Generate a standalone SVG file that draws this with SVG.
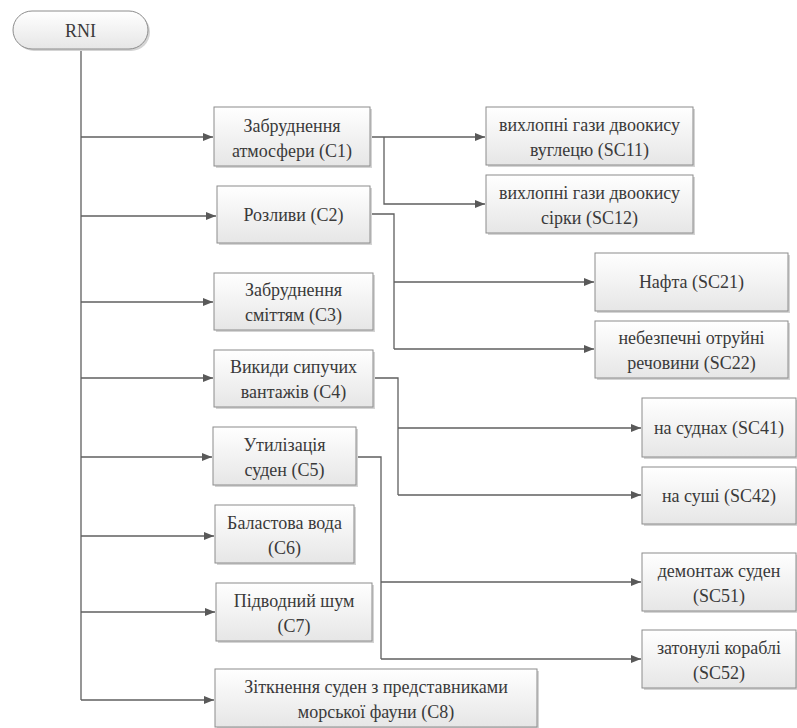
<svg xmlns="http://www.w3.org/2000/svg" width="797" height="728" viewBox="0 0 797 728">
<defs>
<linearGradient id="g" x1="0" y1="0" x2="0" y2="1">
<stop offset="0" stop-color="#ffffff"/>
<stop offset="1" stop-color="#e6e6e6"/>
</linearGradient>
<marker id="a" viewBox="0 0 10 10" refX="10" refY="5" markerWidth="10" markerHeight="10" markerUnits="userSpaceOnUse" orient="auto">
<path d="M0 1 L10 5 L0 9 z" fill="#595959"/>
</marker>
</defs>
<rect width="797" height="728" fill="#ffffff"/>
<g id="connectors" fill="none" stroke="#5f5f5f" stroke-width="1.3">
<path d="M81 49 V700"/>
<path marker-end="url(#a)" d="M81 137 H213"/>
<path marker-end="url(#a)" d="M81 216 H216"/>
<path marker-end="url(#a)" d="M81 302 H213"/>
<path marker-end="url(#a)" d="M81 378 H213"/>
<path marker-end="url(#a)" d="M81 457 H212"/>
<path marker-end="url(#a)" d="M81 536 H214"/>
<path marker-end="url(#a)" d="M81 612 H215"/>
<path marker-end="url(#a)" d="M81 700 H214"/>
<path marker-end="url(#a)" d="M370 137 H485"/>
<path marker-end="url(#a)" d="M384 137 V204 H485"/>
<path d="M370 214 H394 V349"/>
<path marker-end="url(#a)" d="M394 282 H594"/>
<path marker-end="url(#a)" d="M394 349 H594"/>
<path d="M373 378 H398 V495"/>
<path marker-end="url(#a)" d="M398 428 H641"/>
<path marker-end="url(#a)" d="M398 495 H641"/>
<path d="M356 457 H381 V659"/>
<path marker-end="url(#a)" d="M381 582 H641"/>
<path marker-end="url(#a)" d="M381 659 H641"/>
</g>
<g id="nodes" font-family="Liberation Serif, serif" font-size="18" text-anchor="middle" fill="#3a3a3a">
<g id="RNI">
<rect x="15" y="13" width="135" height="38" rx="19" fill="#d4d4d4"/>
<rect x="13" y="11" width="135" height="38" rx="19" fill="url(#g)" stroke="#8c8c8c"/>
<text x="80.5" y="36.5">RNI</text>
</g>
<g id="C1">
<rect x="216" y="109" width="156" height="59" fill="#d4d4d4"/>
<rect x="214" y="107" width="156" height="59" fill="url(#g)" stroke="#8c8c8c"/>
<text x="292" y="132">Забруднення</text>
<text x="292" y="157">атмосфери (С1)</text>
</g>
<g id="C2">
<rect x="219" y="188" width="153" height="57" fill="#d4d4d4"/>
<rect x="217" y="186" width="153" height="57" fill="url(#g)" stroke="#8c8c8c"/>
<text x="293.5" y="220.5">Розливи (С2)</text>
</g>
<g id="C3">
<rect x="216" y="275" width="159" height="57" fill="#d4d4d4"/>
<rect x="214" y="273" width="159" height="57" fill="url(#g)" stroke="#8c8c8c"/>
<text x="293.5" y="296">Забруднення</text>
<text x="293.5" y="321">сміттям (С3)</text>
</g>
<g id="C4">
<rect x="216" y="352" width="159" height="57" fill="#d4d4d4"/>
<rect x="214" y="350" width="159" height="57" fill="url(#g)" stroke="#8c8c8c"/>
<text x="293.5" y="373">Викиди сипучих</text>
<text x="293.5" y="398">вантажів (С4)</text>
</g>
<g id="C5">
<rect x="215" y="429" width="143" height="58" fill="#d4d4d4"/>
<rect x="213" y="427" width="143" height="58" fill="url(#g)" stroke="#8c8c8c"/>
<text x="284.5" y="451">Утилізація</text>
<text x="284.5" y="476">суден (С5)</text>
</g>
<g id="C6">
<rect x="217" y="507" width="139" height="58" fill="#d4d4d4"/>
<rect x="215" y="505" width="139" height="58" fill="url(#g)" stroke="#8c8c8c"/>
<text x="284.5" y="529">Баластова вода</text>
<text x="284.5" y="554">(С6)</text>
</g>
<g id="C7">
<rect x="218" y="585" width="156" height="58" fill="#d4d4d4"/>
<rect x="216" y="583" width="156" height="58" fill="url(#g)" stroke="#8c8c8c"/>
<text x="294" y="607">Підводний шум</text>
<text x="294" y="632">(С7)</text>
</g>
<g id="C8">
<rect x="217" y="671" width="322" height="58" fill="#d4d4d4"/>
<rect x="215" y="669" width="322" height="58" fill="url(#g)" stroke="#8c8c8c"/>
<text x="376" y="693">Зіткнення суден з представниками</text>
<text x="376" y="718">морської фауни (С8)</text>
</g>
<g id="SC11">
<rect x="488" y="109" width="207" height="58" fill="#d4d4d4"/>
<rect x="486" y="107" width="207" height="58" fill="url(#g)" stroke="#8c8c8c"/>
<text x="589.5" y="131">вихлопні гази двоокису</text>
<text x="589.5" y="156">вуглецю (SC11)</text>
</g>
<g id="SC12">
<rect x="488" y="177" width="207" height="58" fill="#d4d4d4"/>
<rect x="486" y="175" width="207" height="58" fill="url(#g)" stroke="#8c8c8c"/>
<text x="589.5" y="199">вихлопні гази двоокису</text>
<text x="589.5" y="224">сірки (SC12)</text>
</g>
<g id="SC21">
<rect x="597" y="255" width="193" height="58" fill="#d4d4d4"/>
<rect x="595" y="253" width="193" height="58" fill="url(#g)" stroke="#8c8c8c"/>
<text x="691.5" y="288">Нафта (SC21)</text>
</g>
<g id="SC22">
<rect x="597" y="323" width="193" height="57" fill="#d4d4d4"/>
<rect x="595" y="321" width="193" height="57" fill="url(#g)" stroke="#8c8c8c"/>
<text x="691.5" y="344">небезпечні отруйні</text>
<text x="691.5" y="369">речовини (SC22)</text>
</g>
<g id="SC41">
<rect x="644" y="400" width="154" height="59" fill="#d4d4d4"/>
<rect x="642" y="398" width="154" height="59" fill="url(#g)" stroke="#8c8c8c"/>
<text x="719" y="434">на суднах (SC41)</text>
</g>
<g id="SC42">
<rect x="644" y="469" width="154" height="57" fill="#d4d4d4"/>
<rect x="642" y="467" width="154" height="57" fill="url(#g)" stroke="#8c8c8c"/>
<text x="719" y="502">на суші (SC42)</text>
</g>
<g id="SC51">
<rect x="644" y="555" width="154" height="58" fill="#d4d4d4"/>
<rect x="642" y="553" width="154" height="58" fill="url(#g)" stroke="#8c8c8c"/>
<text x="719" y="577">демонтаж суден</text>
<text x="719" y="602">(SC51)</text>
</g>
<g id="SC52">
<rect x="644" y="632" width="154" height="58" fill="#d4d4d4"/>
<rect x="642" y="630" width="154" height="58" fill="url(#g)" stroke="#8c8c8c"/>
<text x="719" y="654">затонулі кораблі</text>
<text x="719" y="679">(SC52)</text>
</g>
</g>
</svg>
